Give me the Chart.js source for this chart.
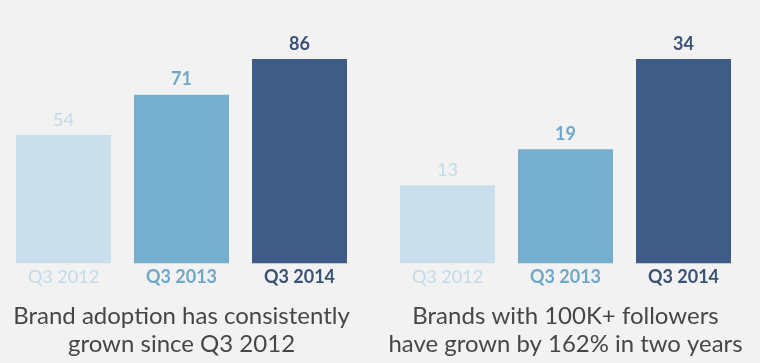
<!DOCTYPE html>
<html>
<head>
<meta charset="utf-8">
<script src="https://cdn.jsdelivr.net/npm/chart.js@4"></script>
<style>
  html, body { margin: 0; padding: 0; background: #f1f2f1; }
  .wrap { display: flex; width: 760px; height: 363px; }
  .box { width: 380px; height: 363px; position: relative; }
</style>
</head>
<body>
<div class="wrap">
  <div class="box"><canvas id="adopcion"></canvas></div>
  <div class="box"><canvas id="seguidores"></canvas></div>
</div>
<script>
// datos
const categories = ['Q3 2012', 'Q3 2013', 'Q3 2014'];
const adoptionValues = [54, 71, 86];
const followerValues = [13, 19, 34];
const adoptionCaption = ['Brand adoption has consistently', 'grown since Q3 2012'];
const followerCaption = ['Brands with 100K+ followers', 'have grown by 162% in two years'];

const barColors = ['#c9e0ec', '#76aecd', '#3e5c86'];
const textColors = ['#c3dbe8', '#6ea8ca', '#3a5278'];
const weights = ['normal', 'bold', 'bold'];

// etiquetas de valor encima de cada barra
const valueLabels = {
    id: 'valueLabels',
    afterDatasetsDraw(chart) {
        const ctx = chart.ctx;
        const meta = chart.getDatasetMeta(0);
        ctx.save();
        ctx.textAlign = 'center';
        ctx.textBaseline = 'bottom';
        meta.data.forEach(function(bar, i) {
            ctx.font = weights[i] + ' 18px Lato';
            ctx.fillStyle = textColors[i];
            ctx.fillText(chart.data.datasets[0].data[i], bar.x, bar.y - 6);
        });
        ctx.restore();
    }
};

function makeChart(id, values, caption, padLeft, padRight) {
    return new Chart(document.getElementById(id).getContext('2d'), {
        type: 'bar',
        data: {
            labels: categories,
            datasets: [{
                data: values,
                backgroundColor: barColors,
                borderWidth: 0,
                barPercentage: 0.805,
                categoryPercentage: 1
            }]
        },
        options: {
            responsive: false,
            animation: false,
            layout: { padding: { top: 59, left: padLeft, right: padRight, bottom: 0 } },
            scales: {
                x: {
                    grid: { display: false, drawTicks: false },
                    border: { display: false },
                    ticks: {
                        padding: 3,
                        color: textColors,
                        font: function(c) {
                            return { family: 'Lato', size: 18, weight: weights[c.index] };
                        }
                    }
                },
                y: {
                    display: false,
                    min: 0,
                    max: Math.max.apply(null, values)
                }
            },
            plugins: {
                legend: { display: false },
                tooltip: { enabled: false },
                title: {
                    display: true,
                    position: 'bottom',
                    text: caption,
                    color: '#464646',
                    font: { family: 'Lato', size: 24, weight: 'normal', lineHeight: 1.167 },
                    padding: { top: 11, bottom: 5 }
                }
            }
        },
        plugins: [valueLabels]
    });
}

document.getElementById('adopcion').width = 380;
document.getElementById('adopcion').height = 363;
document.getElementById('seguidores').width = 380;
document.getElementById('seguidores').height = 363;

makeChart('adopcion', adoptionValues, adoptionCaption, 4.5, 21.5);
makeChart('seguidores', followerValues, followerCaption, 8.5, 17.5);
</script>
</body>
</html>
